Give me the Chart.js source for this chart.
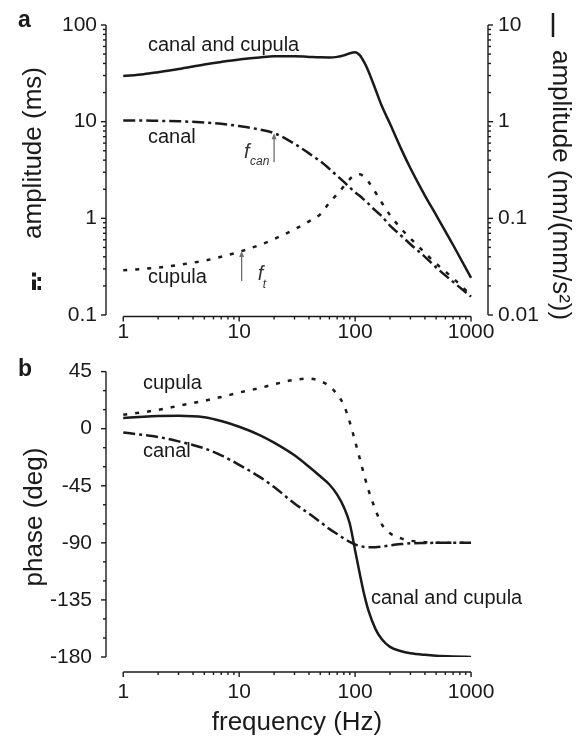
<!DOCTYPE html>
<html>
<head>
<meta charset="utf-8">
<title>canal and cupula response</title>
<script src="https://cdn.jsdelivr.net/npm/chart.js@4.4.1/dist/chart.umd.min.js"></script>
<style>
    html, body { margin: 0; padding: 0; background: #fff; }
    .figure { position: relative; width: 585px; height: 741px; }
    .figure canvas { position: absolute; left: 0; }
</style>
</head>
<body>
<div class="figure">
    <canvas id="ampChart" width="585" height="345" style="top:0px"></canvas>
    <canvas id="phaseChart" width="585" height="396" style="top:345px"></canvas>
</div>
<script>
/*
    ----------> DATA <----------
*/

const freqs = [1, 1.5, 2, 3, 5, 7, 10, 15, 20, 30, 40, 50, 60, 70, 80, 90, 100, 110, 120, 130, 150, 170, 200, 250, 300, 400, 500, 700, 1000];

// amplitude (ms), left axis
const canalAmp = [10.3, 10.3, 10.2, 10.1, 9.8, 9.5, 9.0, 8.3, 7.6, 5.9, 4.7, 3.9, 3.25, 2.75, 2.38, 2.08, 1.86, 1.7, 1.55, 1.42, 1.2, 1.05, 0.84, 0.66, 0.54, 0.4, 0.31, 0.22, 0.155];
const cupulaAmp = [0.29, 0.30, 0.31, 0.33, 0.365, 0.40, 0.45, 0.53, 0.61, 0.77, 0.93, 1.1, 1.45, 1.78, 2.15, 2.55, 2.8, 2.85, 2.68, 2.4, 1.85, 1.45, 1.08, 0.78, 0.62, 0.44, 0.34, 0.24, 0.16];
// amplitude (nm/(mm/s^2)), right axis
const bothAmp = [2.97, 3.1, 3.25, 3.5, 3.9, 4.15, 4.4, 4.62, 4.75, 4.75, 4.68, 4.63, 4.62, 4.68, 4.85, 5.1, 5.22, 4.85, 4.1, 3.35, 2.15, 1.45, 0.95, 0.52, 0.33, 0.172, 0.108, 0.053, 0.0242];

// phase (deg)
const canalPhase = [-3, -5, -6.5, -10, -15.5, -21, -28.5, -38, -46, -59, -67, -73.5, -79, -83, -86.5, -89.3, -91.3, -92.5, -93.2, -93.5, -93.5, -93, -92, -91, -90.4, -90.1, -90, -90, -90];
const cupulaPhase = [11, 13, 14.8, 18, 22, 25, 28.5, 32, 35, 38.5, 39.5, 37.5, 33.5, 27, 18.5, 5, -10, -24, -37, -48, -64, -75.5, -82.5, -86.5, -88.3, -89.5, -90, -90, -90];
const bothPhase = [8.5, 9.5, 10, 10.2, 9, 6, 1.5, -5, -11, -21, -30, -37.5, -44, -52, -62, -75, -96, -115, -131, -143, -158, -166, -172, -175.5, -177, -178.3, -179, -179.6, -180];

// tick labels
const freqTicks = [1, 10, 100, 1000];
const ampTicks = [0.1, 1, 10, 100];
const amp2Ticks = [0.01, 0.1, 1, 10];
const phaseTicks = [-180, -135, -90, -45, 0, 45];

// corner frequencies marked with arrows: [frequency, amplitude on the curve]
const fCan = [20, 7.6];
const fT = [10.5, 0.46];

/*
    ----------> STYLE <----------
*/

const FONT = "'Liberation Sans', Arial, Helvetica, sans-serif";
const INK = "#1a1a1a";
const X_MIN = 0.71;
const X_MAX = 1400;

const SOLID = [];
const DASH_DOT = [12, 4, 3, 4];
const DOTTED = [4, 8];

function curve(ys, dash, yAxisID) {
    return {
        data: freqs.map((f, i) => ({ x: f, y: ys[i] })),
        yAxisID,
        borderColor: INK,
        borderWidth: 2.5,
        borderDash: dash,
        pointRadius: 0,
        fill: false,
        cubicInterpolationMode: "monotone",
    };
}

function fixedTicks(values) {
    return scale => { scale.ticks = values.map(value => ({ value })); };
}

function tickFont() {
    return { family: FONT, size: 21 };
}

function valueAxis(extra) {
    return Object.assign({
        bounds: "data",
        grid: { display: false, drawTicks: false },
        border: { display: false },
        ticks: { color: INK, font: tickFont(), autoSkip: false, maxRotation: 0, callback: v => String(v) },
    }, extra);
}

function freqAxis(height, padding) {
    const axis = valueAxis({
        type: "logarithmic",
        min: X_MIN,
        max: X_MAX,
        afterFit: s => { s.height = height; },
        afterBuildTicks: fixedTicks(freqTicks),
    });
    axis.ticks.padding = padding;
    return axis;
}

function logSteps(min, max) {
    const out = [];
    for (let e = Math.floor(Math.log10(min) + 1e-9); Math.pow(10, e) <= max * 1.001; e++) {
        for (let m = 1; m <= 9; m++) {
            const v = m * Math.pow(10, e);
            if (v >= min * 0.999 && v <= max * 1.001) out.push({ value: v, major: m === 1 });
        }
    }
    return out;
}

function linSteps(min, max, major, minor) {
    const out = [];
    for (let v = min; v <= max; v += minor) {
        out.push({ value: v, major: (v - min) % major === 0 });
    }
    return out;
}

function seg(ctx, x1, y1, x2, y2) {
    ctx.beginPath();
    ctx.moveTo(x1, y1);
    ctx.lineTo(x2, y2);
    ctx.stroke();
}

function drawAxes(chart, xDrop, yAxes) {
    const { ctx, chartArea: area, scales } = chart;
    ctx.save();
    ctx.strokeStyle = INK;
    ctx.lineWidth = 1.4;

    const xs = scales.x;
    const yLine = area.bottom + xDrop;
    seg(ctx, xs.getPixelForValue(freqTicks[0]), yLine, xs.getPixelForValue(freqTicks[freqTicks.length - 1]), yLine);
    logSteps(freqTicks[0], freqTicks[freqTicks.length - 1]).forEach(t => {
        const px = xs.getPixelForValue(t.value);
        seg(ctx, px, yLine, px, yLine + (t.major ? 5 : 3));
    });

    yAxes.forEach(ax => {
        const s = scales[ax.id];
        const x0 = ax.side === "left" ? area.left : area.right;
        const dir = ax.side === "left" ? -1 : 1;
        seg(ctx, x0, s.getPixelForValue(s.max), x0, s.getPixelForValue(s.min));
        const marks = ax.log ? logSteps(s.min, s.max) : linSteps(s.min, s.max, 45, 15);
        marks.forEach(t => {
            const py = s.getPixelForValue(t.value);
            seg(ctx, x0, py, x0 + dir * (t.major ? 5 : 3), py);
        });
    });
    ctx.restore();
}

function drawText(ctx, text, x, y, font, opts = {}) {
    ctx.save();
    ctx.font = font;
    ctx.fillStyle = opts.color || INK;
    ctx.textAlign = opts.align || "left";
    ctx.textBaseline = opts.baseline || "alphabetic";
    ctx.translate(x, y);
    if (opts.rotate) ctx.rotate(opts.rotate);
    ctx.fillText(text, 0, 0);
    ctx.restore();
}

function drawArrow(ctx, x, tipY, length) {
    ctx.save();
    ctx.strokeStyle = "#6e6e6e";
    ctx.fillStyle = "#6e6e6e";
    ctx.lineWidth = 1.3;
    seg(ctx, x, tipY + 3, x, tipY + length);
    ctx.beginPath();
    ctx.moveTo(x, tipY);
    ctx.lineTo(x - 2.5, tipY + 6);
    ctx.lineTo(x + 2.5, tipY + 6);
    ctx.closePath();
    ctx.fill();
    ctx.restore();
}

const baseOptions = {
    responsive: false,
    animation: false,
    events: [],
    plugins: { legend: { display: false }, tooltip: { enabled: false } },
};

/*
    ----------> AMPLITUDE (a) <----------
*/

new Chart(document.getElementById("ampChart"), {
    type: "line",
    data: {
        datasets: [
            curve(bothAmp, SOLID, "y2"),
            curve(canalAmp, DASH_DOT, "y"),
            curve(cupulaAmp, DOTTED, "y"),
        ],
    },
    options: Object.assign({}, baseOptions, {
        layout: { padding: { top: 25, left: 0, right: 0, bottom: 0 } },
        scales: {
            x: freqAxis(30, 5),
            y: valueAxis({
                type: "logarithmic",
                position: "left",
                min: 0.1,
                max: 100,
                afterFit: s => { s.width = 106; },
                afterBuildTicks: fixedTicks(ampTicks),
                ticks: { color: INK, font: tickFont(), padding: 9, callback: v => String(v) },
            }),
            y2: valueAxis({
                type: "logarithmic",
                position: "right",
                min: 0.01,
                max: 10,
                afterFit: s => { s.width = 97; },
                afterBuildTicks: fixedTicks(amp2Ticks),
                ticks: { color: INK, font: tickFont(), padding: 10, callback: v => String(v) },
            }),
        },
    }),
    plugins: [{
        id: "ampDecor",
        afterDraw(chart) {
            const ctx = chart.ctx;
            const xs = chart.scales.x;
            const ys = chart.scales.y;
            drawAxes(chart, 1.5, [
                { id: "y", side: "left", log: true },
                { id: "y2", side: "right", log: true },
            ]);

            const note = `20px ${FONT}`;
            drawText(ctx, "a", 18, 27, `bold 23px ${FONT}`);
            drawText(ctx, "canal and cupula", 148, 51, note);
            drawText(ctx, "canal", 148, 143, note);
            drawText(ctx, "cupula", 148, 283, note);

            // corner-frequency arrows
            const canX = xs.getPixelForValue(fCan[0]);
            const canY = ys.getPixelForValue(fCan[1]);
            drawArrow(ctx, canX, canY, 29);
            drawText(ctx, "f", canX - 30, canY + 25, `italic 20px ${FONT}`, { color: "#333" });
            drawText(ctx, "can", canX - 24, canY + 32, `italic 12px ${FONT}`, { color: "#333" });

            const tX = xs.getPixelForValue(fT[0]);
            const tY = ys.getPixelForValue(fT[1]);
            drawArrow(ctx, tX, tY, 30);
            drawText(ctx, "f", tX + 16, tY + 29, `italic 20px ${FONT}`, { color: "#333" });
            drawText(ctx, "t", tX + 21, tY + 37, `italic 12px ${FONT}`, { color: "#333" });

            // axis titles with line-style keys
            const title = `26px ${FONT}`;
            drawText(ctx, "amplitude (ms)", 34, 153, title, { align: "center", baseline: "middle", rotate: -Math.PI / 2 });
            ctx.save();
            ctx.fillStyle = INK;
            ctx.fillRect(32, 272.5, 4, 4);
            ctx.fillRect(32, 279.5, 4, 10.5);
            ctx.fillRect(37.5, 277, 3.5, 4);
            ctx.fillRect(37.5, 286, 3.5, 4);
            ctx.strokeStyle = INK;
            ctx.lineWidth = 2.5;
            seg(ctx, 553, 13, 553, 37);
            ctx.restore();
            drawText(ctx, "amplitude (nm/(mm/s²))", 560, 50, title, { align: "left", baseline: "middle", rotate: Math.PI / 2 });
        },
    }],
});

/*
    ----------> PHASE (b) <----------
*/

new Chart(document.getElementById("phaseChart"), {
    type: "line",
    data: {
        datasets: [
            curve(bothPhase, SOLID, "y"),
            curve(canalPhase, DASH_DOT, "y"),
            curve(cupulaPhase, DOTTED, "y"),
        ],
    },
    options: Object.assign({}, baseOptions, {
        layout: { padding: { top: 23, left: 0, right: 97, bottom: 0 } },
        scales: {
            x: freqAxis(84, 23),
            y: valueAxis({
                type: "linear",
                position: "left",
                min: -180,
                max: 45,
                afterFit: s => { s.width = 106; },
                afterBuildTicks: fixedTicks(phaseTicks),
                ticks: { color: INK, font: tickFont(), padding: 14, callback: v => String(v) },
            }),
        },
    }),
    plugins: [{
        id: "phaseDecor",
        afterDraw(chart) {
            const ctx = chart.ctx;
            drawAxes(chart, 15, [{ id: "y", side: "left", log: false }]);

            const note = `20px ${FONT}`;
            drawText(ctx, "b", 18, 31, `bold 23px ${FONT}`);
            drawText(ctx, "cupula", 143, 44, note);
            drawText(ctx, "canal", 143, 112, note);
            drawText(ctx, "canal and cupula", 371, 259, note);

            const title = `26px ${FONT}`;
            drawText(ctx, "phase (deg)", 35, 172, title, { align: "center", baseline: "middle", rotate: -Math.PI / 2 });
            drawText(ctx, "frequency (Hz)", 297, 378, title, { align: "center", baseline: "middle" });
        },
    }],
});
</script>
</body>
</html>
